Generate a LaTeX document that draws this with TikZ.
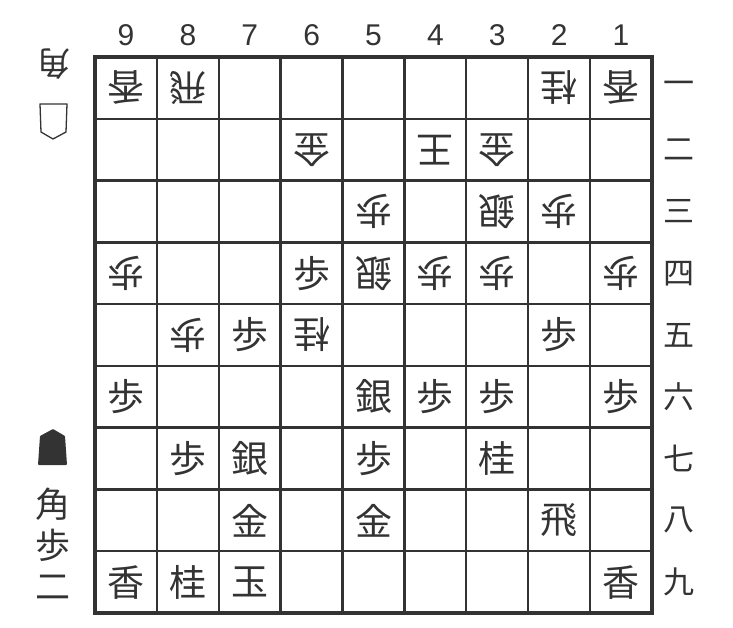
\documentclass[tikz,border=0pt]{standalone}
\usepackage{fontspec}
\setmainfont{Liberation Sans}
\newfontfamily\jpfont{Noto Sans CJK JP}
\usepackage{tikz}
\definecolor{ink}{HTML}{333333}
\tikzstyle{sente} = [font=\jpfont\fontsize{37}{37}\selectfont, text=ink, inner sep=0pt]
\tikzstyle{gote} = [sente, rotate=180]
\tikzstyle{file} = [font=\fontsize{30}{30}\selectfont, text=ink, inner sep=0pt]
\tikzstyle{rank} = [font=\jpfont\fontsize{31}{31}\selectfont, text=ink, inner sep=0pt]
\tikzstyle{grid} = [draw=ink, line width=2.4pt]

\begin{document}
\begin{tikzpicture}[x=1pt, y=-1pt]
\useasboundingbox (0,0) rectangle (733,627);
% board
\foreach \i in {1,...,8} {
  \path [grid] ({95+61.88*\i},57) -- ({95+61.88*\i},613);
  \path [grid] (95,{57+61.78*\i}) -- (652,{57+61.78*\i});
}
\draw [ink, line width=4.5pt] (95,57) rectangle (652,613);
% files and ranks
\foreach \c in {1,...,9}
  \node [file] (file-\c) at ({95+61.88*(9-\c)+31},35) {\c};
\foreach \r/\n in {1/一,2/二,3/三,4/四,5/五,6/六,7/七,8/八,9/九}
  \node [rank] (rank-\r) at (679,{57+61.78*(\r-0.5)}) {\n};
% gote pieces
\foreach \c/\r/\p in {9/1/香,8/1/飛,2/1/桂,1/1/香,6/2/金,4/2/王,3/2/金,
    5/3/歩,3/3/銀,2/3/歩,9/4/歩,5/4/銀,4/4/歩,3/4/歩,1/4/歩,8/5/歩,6/5/桂}
  \node [gote] (g-\c-\r) at ({95+61.88*(9-\c)+31},{57+61.78*(\r-0.5)}) {\p};
% sente pieces
\foreach \c/\r/\p in {6/4/歩,7/5/歩,2/5/歩,9/6/歩,5/6/銀,4/6/歩,3/6/歩,1/6/歩,
    8/7/歩,7/7/銀,5/7/歩,3/7/桂,7/8/金,5/8/金,2/8/飛,9/9/香,8/9/桂,7/9/玉,1/9/香}
  \node [sente] (s-\c-\r) at ({95+61.88*(9-\c)+31},{57+61.78*(\r-0.5)}) {\p};
% pieces in hand
\node [gote, font=\jpfont\fontsize{33}{33}\selectfont] (gote-hand) at (54,64) {角};
\draw [ink, line width=1.3pt, line join=round] (40,104) -- (67,104) -- (66,132) -- (53,139) -- (41,132) -- cycle;
\fill [ink, rounded corners=0.8pt] (53,429) -- (65,436) -- (67,465) -- (38,465) -- (40,436) -- cycle;
\node [sente, font=\jpfont\fontsize{35}{41}\selectfont, align=center] (sente-hand) at (53,544) {角\\歩\\二};
\end{tikzpicture}
\end{document}
